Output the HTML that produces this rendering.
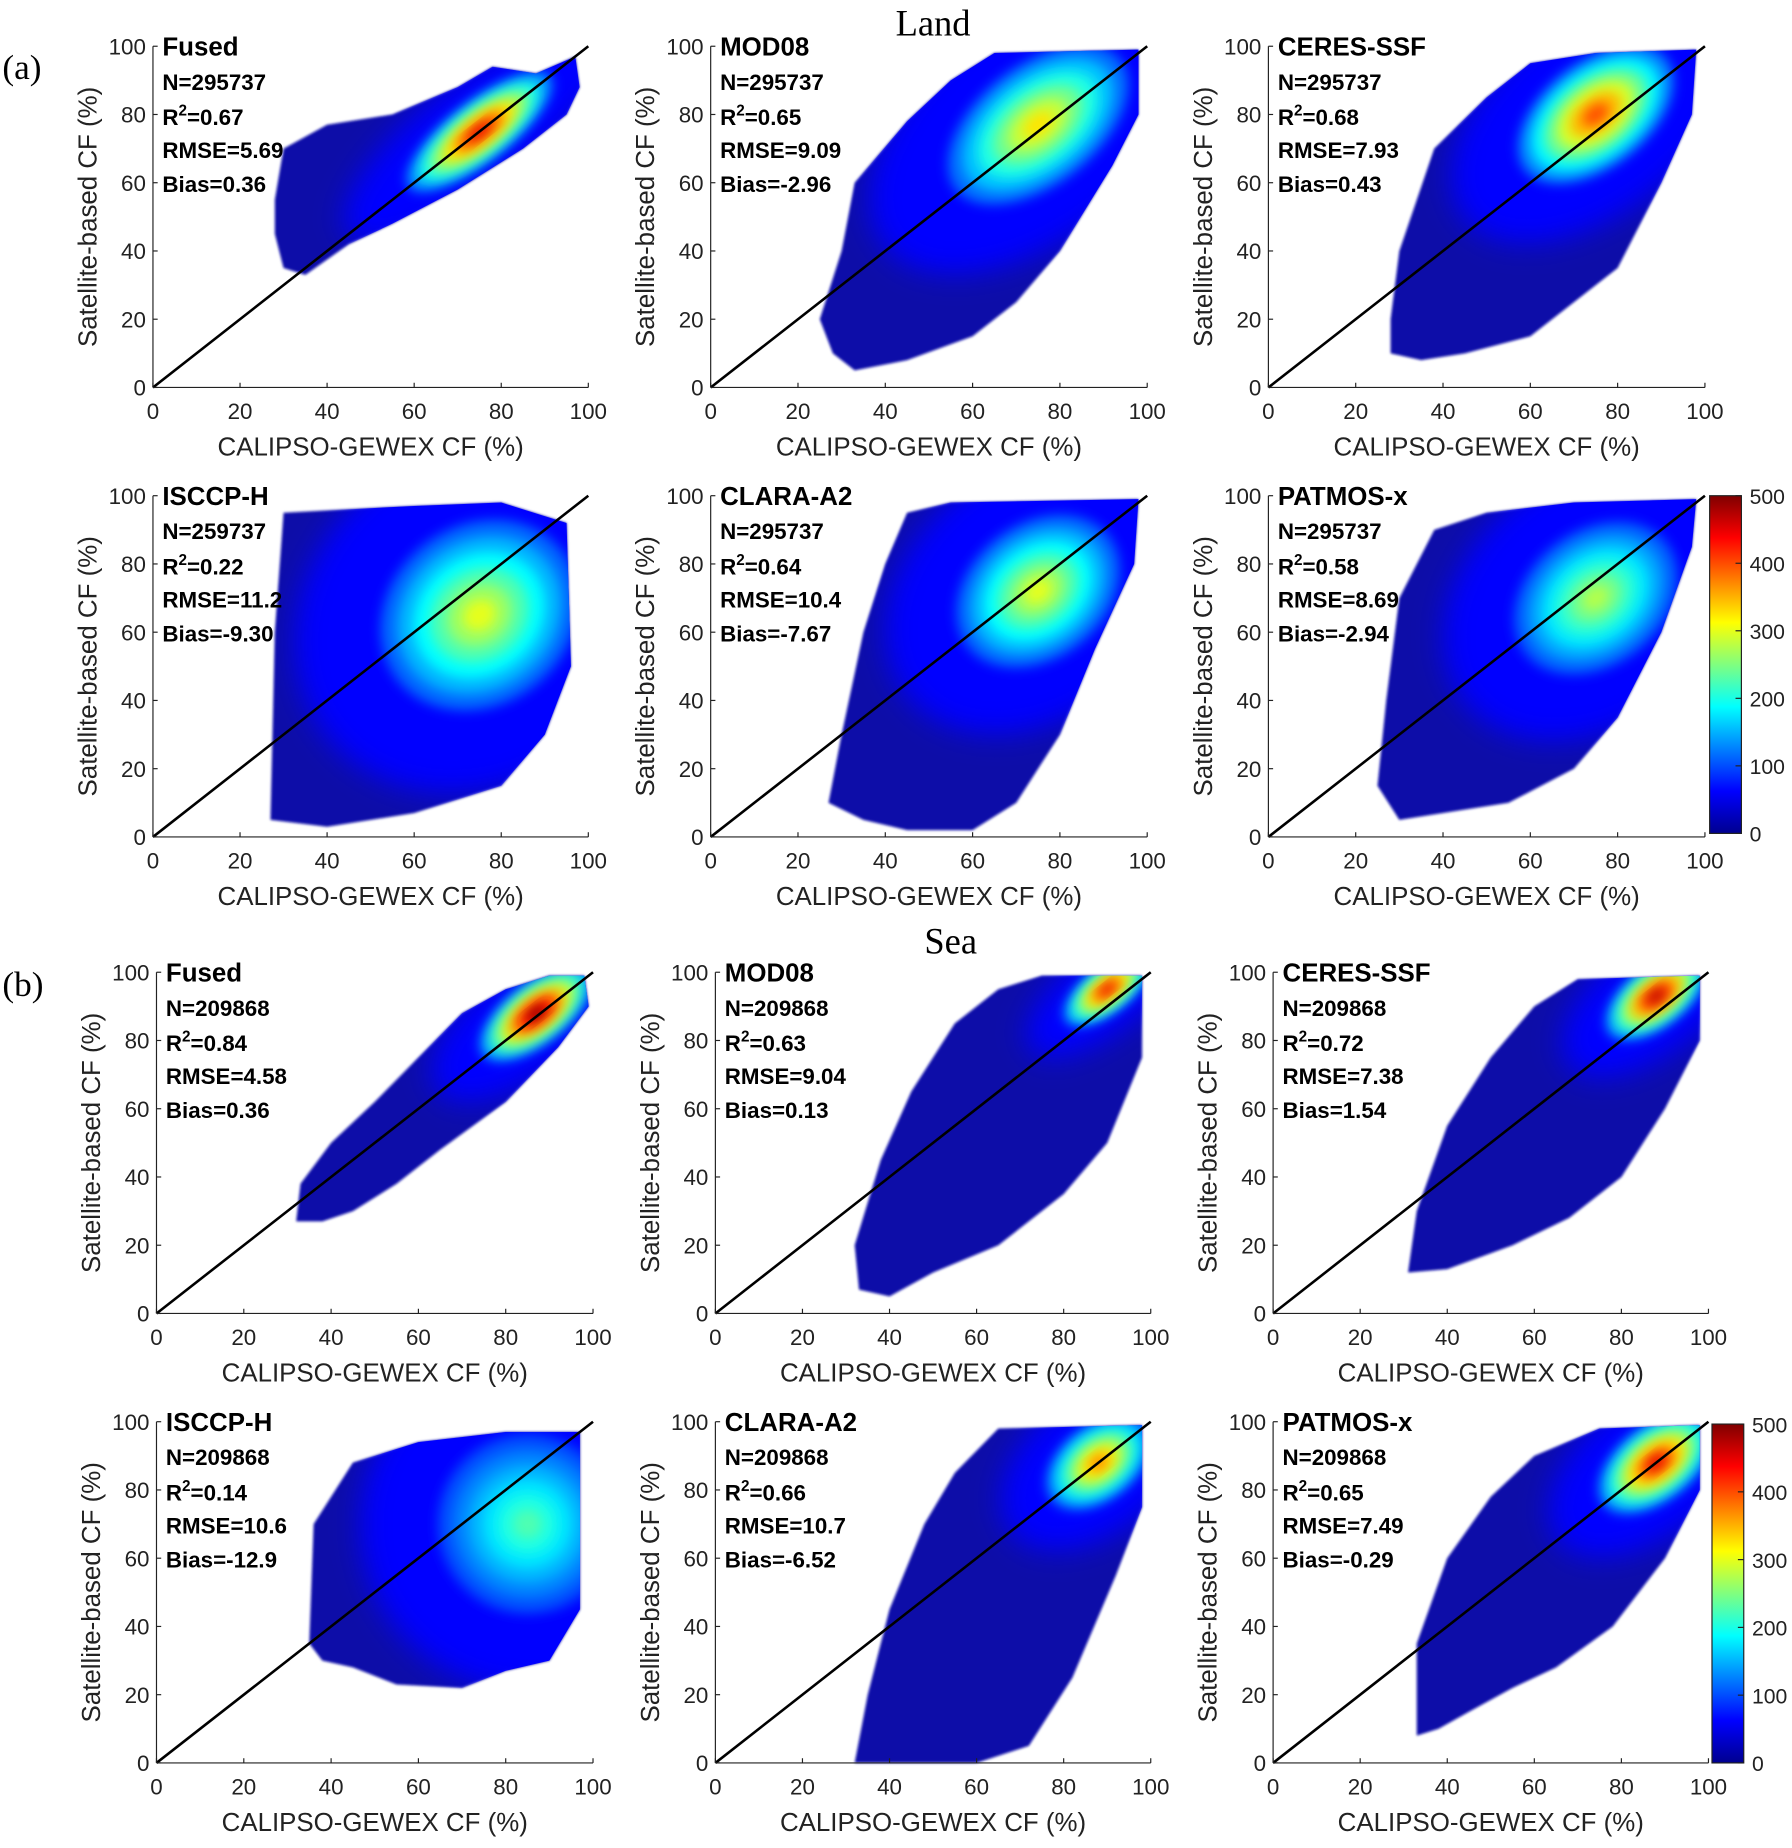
<!DOCTYPE html>
<html><head><meta charset="utf-8"><style>
html,body{margin:0;padding:0;background:#fff;}
svg{display:block;}
text{font-family:"Liberation Sans",Arial,sans-serif;}
</style></head><body>
<svg id="fig" width="1792" height="1848" viewBox="0 0 1523 1570" xmlns="http://www.w3.org/2000/svg">
<defs>
<filter id="blur" x="-50%" y="-50%" width="200%" height="200%"><feGaussianBlur stdDeviation="5"/></filter>
<filter id="blur2" x="-50%" y="-50%" width="200%" height="200%"><feGaussianBlur stdDeviation="12"/></filter>
<filter id="soft" x="-10%" y="-10%" width="120%" height="120%"><feGaussianBlur stdDeviation="1.2"/></filter>
<linearGradient id="jet" x1="0" y1="1" x2="0" y2="0">
<stop offset="0" stop-color="#00008f"/><stop offset="0.125" stop-color="#0000ff"/><stop offset="0.375" stop-color="#00ffff"/><stop offset="0.625" stop-color="#ffff00"/><stop offset="0.875" stop-color="#ff0000"/><stop offset="1" stop-color="#800000"/>
</linearGradient>
</defs>
<text x="793" y="30" text-anchor="middle" font-size="31" style="font-family:'Liberation Serif',serif">Land</text>
<text x="808" y="810" text-anchor="middle" font-size="31" style="font-family:'Liberation Serif',serif">Sea</text>
<text x="2" y="67" font-size="30" style="font-family:'Liberation Serif',serif">(a)</text>
<text x="2" y="846" font-size="30" style="font-family:'Liberation Serif',serif">(b)</text>
</svg>
<script>
const panelNames=["Fused","MOD08","CERES-SSF","ISCCP-H","CLARA-A2","PATMOS-x","Fused","MOD08","CERES-SSF","ISCCP-H","CLARA-A2","PATMOS-x"];
const panelN=["295737","295737","295737","259737","295737","295737","209868","209868","209868","209868","209868","209868"];
const panelR2=["0.67","0.65","0.68","0.22","0.64","0.58","0.84","0.63","0.72","0.14","0.66","0.65"];
const panelRMSE=["5.69","9.09","7.93","11.2","10.4","8.69","4.58","9.04","7.38","10.6","10.7","7.49"];
const panelBias=["0.36","-2.96","0.43","-9.30","-7.67","-2.94","0.36","0.13","1.54","-12.9","-6.52","-0.29"];
const hulls=[
[[28,55],[30,70],[40,77],[55,80],[70,88],[78,94],[88,92],[97,97],[98,88],[95,80],[85,70],[70,58],[55,48],[45,42],[35,33],[30,35],[28,45]],
[[25,20],[30,40],[33,60],[45,78],[55,90],[65,98],[98,99],[98,80],[92,65],[80,40],[70,25],[60,15],[45,8],[33,5],[28,10]],
[[28,10],[28,20],[30,40],[38,70],[50,85],[60,95],[75,98],[98,99],[97,80],[90,60],[80,35],[70,25],[60,15],[45,10],[35,8]],
[[27,5],[28,60],[30,95],[60,97],[80,98],[95,92],[96,50],[90,30],[80,15],[60,7],[40,3]],
[[27,10],[30,30],[35,60],[40,80],[45,95],[55,98],[98,99],[97,80],[88,55],[80,30],[70,10],[60,2],[45,2],[35,5]],
[[25,15],[27,40],[30,70],[38,90],[50,95],[70,98],[98,99],[97,85],[90,60],[80,35],[70,20],[55,10],[40,7],[30,5]],
[[32,27],[33,38],[40,50],[50,62],[60,75],[70,88],[80,95],[90,99],[98,99],[99,90],[92,78],[80,62],[65,48],[55,38],[45,30],[38,27]],
[[33,7],[32,20],[38,45],[45,65],[55,85],[65,95],[75,99],[98,99],[98,75],[90,50],[80,35],[65,20],[50,12],[40,5]],
[[31,12],[33,30],[40,55],[50,75],[60,90],[70,98],[98,99],[98,80],[90,60],[80,40],[68,28],[55,20],[40,13]],
[[35,35],[36,70],[45,88],[60,94],[80,97],[97,97],[97,45],[90,30],[80,27],[70,22],[55,23],[45,28],[38,30]],
[[32,0],[35,20],[40,45],[48,70],[55,85],[65,98],[98,99],[98,75],[92,55],[82,25],[72,5],[60,0]],
[[33,8],[33,35],[40,60],[50,78],[60,90],[75,98],[98,99],[98,80],[90,60],[78,40],[65,28],[55,22],[45,15],[38,10]]
];
const coreX=[75,75,75,75,75,75,87,90,88,85,88,88];
const coreY=[75,77,80,65,72,70,88,95,93,70,88,88];
const coreMajor=[12,14,12,14,12,12,9,7,8,12,8,9];
const coreMinor=[4,8,7,12,9,9,4,3,4,12,5,5];
const corePeak=[0.9,0.65,0.8,0.6,0.6,0.55,1.0,0.9,0.95,0.45,0.75,0.9];
const ticks=[0,20,40,60,80,100];
const cbTicks=[0,100,200,300,400,500];

const colX=[[130,500],[604,975],[1078,1449]];
const colXs=[[133,504],[608,978],[1082,1452]];
const rowY=[[329,39],[711,421],[1116,826],[1498,1208]];
const NS="http://www.w3.org/2000/svg";
const svg=document.getElementById('fig');
function mk(tag,attrs,parent){const e=document.createElementNS(NS,tag);for(const k in attrs)e.setAttribute(k,attrs[k]);(parent||svg).appendChild(e);return e;}
function jet(v){v=Math.max(0,Math.min(1,v));
 const r=Math.max(0,Math.min(1,1.5-Math.abs(4*v-3))),g=Math.max(0,Math.min(1,1.5-Math.abs(4*v-2))),b=Math.max(0,Math.min(1,1.5-Math.abs(4*v-1)));
 return `rgb(${Math.round(r*255)},${Math.round(g*255)},${Math.round(b*255)})`;}

for(let p=0;p<12;p++){
 const row=Math.floor(p/3),col=p%3;
 const xs=row<2?colX[col]:colXs[col];
 const ys=rowY[row];
 const sx=v=>xs[0]+(xs[1]-xs[0])*v/100;
 const sy=v=>ys[0]+(ys[1]-ys[0])*v/100;
 const g=mk('g',{});
 
 
 const clipId='clip'+p;
 const cp=mk('clipPath',{id:clipId},g);
 const pts=hulls[p].map(q=>sx(q[0])+','+sy(q[1])).join(' ');
 mk('polygon',{points:pts},cp);
 const hull=mk('polygon',{points:pts,fill:'#0a0aa8',filter:'url(#soft)'},g);
 
 
 const cg=mk('g',{'clip-path':`url(#${clipId})`},g);
 const ang=-Math.atan2((ys[1]-ys[0]),(xs[1]-xs[0]))*180/Math.PI;
 const ccx=sx(coreX[p]),ccy=sy(coreY[p]);
 const mid=mk('ellipse',{cx:ccx,cy:ccy,rx:coreMajor[p]*3.2*(xs[1]-xs[0])/100,ry:coreMinor[p]*3.2*(xs[1]-xs[0])/100,fill:jet(0.13),filter:'url(#blur2)',transform:`rotate(${-ang} ${ccx} ${ccy})`},cg);
 
 
 const n=6;
 for(let i=1;i<=n;i++){
  const lvl=0.15+(corePeak[p]-0.15)*i/n;
  const s=2.0*(1-i/(n+1));
  const rx=coreMajor[p]*s*(xs[1]-xs[0])/100, ry=coreMinor[p]*s*(xs[1]-xs[0])/100;
  const e=mk('ellipse',{cx:ccx,cy:ccy,rx:rx,ry:ry,fill:jet(lvl),filter:'url(#blur)',transform:`rotate(${-ang} ${ccx} ${ccy})`},cg);
  
  
 }
 const d=mk('line',{x1:sx(0),y1:sy(0),x2:sx(100),y2:sy(100),stroke:'#000','stroke-width':2.2},g);
 
 
 mk('line',{x1:xs[0],y1:ys[0],x2:xs[1],y2:ys[0],stroke:'#222','stroke-width':1},g);
 mk('line',{x1:xs[0],y1:ys[0],x2:xs[0],y2:ys[1],stroke:'#222','stroke-width':1},g);
 ticks.forEach(t=>{
  mk('line',{x1:sx(t),y1:ys[0],x2:sx(t),y2:ys[0]-4,stroke:'#222'},g);
  mk('line',{x1:xs[0],y1:sy(t),x2:xs[0]+4,y2:sy(t),stroke:'#222'},g);
  const tx=mk('text',{x:sx(t),y:ys[0]+27,'text-anchor':'middle','font-size':19,fill:'#222'},g);tx.textContent=t;
  
  
  const ty=mk('text',{x:xs[0]-6,y:sy(t)+7,'text-anchor':'end','font-size':19,fill:'#222'},g);ty.textContent=t;
  
  
 });
 const xl=mk('text',{x:(xs[0]+xs[1])/2,y:ys[0]+58,'text-anchor':'middle','font-size':22,fill:'#222'},g);xl.textContent='CALIPSO-GEWEX CF (%)';
 
 
 const ycx=xs[0]-48,ycy=(ys[0]+ys[1])/2;
 const yl=mk('text',{x:ycx,y:ycy,'text-anchor':'middle','font-size':22,fill:'#222',transform:`rotate(-90 ${ycx} ${ycy})`},g);yl.textContent='Satellite-based CF (%)';
 
 
 const lines=[panelNames[p],'N='+panelN[p],null,'RMSE='+panelRMSE[p],'Bias='+panelBias[p]];
 const offs=[8,37,67,95,124];
 lines.forEach((s,i)=>{
  const t=mk('text',{x:xs[0]+8,y:ys[1]+offs[i],'font-size':i==0?22:19,'font-weight':'bold',fill:'#000'},g);
  
  
  if(s===null){t.textContent='R';const sp=mk('tspan',{dy:-8,'font-size':13},t);sp.textContent='2';const sp2=mk('tspan',{dy:8},t);sp2.textContent='='+panelR2[p];}
  else t.textContent=s;
 });
}
[[1453,421,708],[1455,1210,1498]].forEach((c,i)=>{
 const g=mk('g',{});
 
 
 mk('rect',{x:c[0],y:c[1],width:27,height:c[2]-c[1],fill:'url(#jet)',stroke:'#222','stroke-width':1},g);
 cbTicks.forEach(t=>{
  const y=c[2]-(c[2]-c[1])*t/500;
  mk('line',{x1:c[0]+27,y1:y,x2:c[0]+22,y2:y,stroke:'#222'},g);
  const tx=mk('text',{x:c[0]+34,y:y+7,'font-size':18,fill:'#222'},g);tx.textContent=t;
  
  
 });
});
</script>
</body></html>
